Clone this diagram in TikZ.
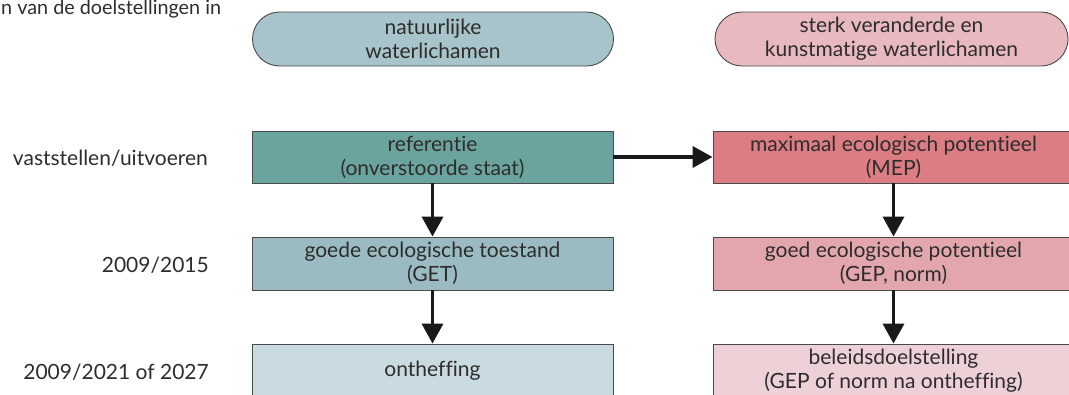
\documentclass[tikz,border=0pt]{standalone}
\usepackage{fontspec}
\setmainfont{Lato}[Ligatures=NoCommon]
\usetikzlibrary{arrows.meta}
\definecolor{txt}{HTML}{2E2C2D}
\definecolor{edge}{HTML}{4A4A4A}
\definecolor{natpill}{HTML}{A6C4C9}
\definecolor{kunpill}{HTML}{E8B9BF}
\definecolor{natA}{HTML}{6BA39E}
\definecolor{kunA}{HTML}{DB7D82}
\definecolor{natB}{HTML}{9ABBC1}
\definecolor{kunB}{HTML}{E3A6AC}
\definecolor{natC}{HTML}{C9DBE0}
\definecolor{kunC}{HTML}{EDD1D6}
\begin{document}
\begin{tikzpicture}[x=1pt,y=-1pt,
  every node/.style={text=txt,font=\fontsize{21}{24}\selectfont,inner sep=0pt},
  box/.style={draw=edge,line width=0.9pt,minimum width=361pt,align=center},
  pill/.style={box,rounded corners=27pt,minimum height=54pt},
  rowlabel/.style={anchor=east},
  arr/.style={line width=3.6pt,draw=black!90,-{Triangle[length=20pt,width=21pt]}}]
  \useasboundingbox (0,0) rectangle (1069,394);
  \clip (0,0) rectangle (1069,394);

  % column headers
  \node[pill,fill=natpill] (nat) at (433,39) {natuurlijke\\waterlichamen};
  \node[pill,fill=kunpill,minimum width=353pt] (kun) at (891.5,39) {sterk veranderde en\\kunstmatige waterlichamen};

  % row labels
  \node[anchor=base west,font=\fontsize{19.8}{24}\selectfont] (doel) at (1,14) {n van de doelstellingen in};
  \node[rowlabel] (lab1) at (208,158) {vaststellen/uitvoeren};
  \node[rowlabel] (lab2) at (209,265) {2009/2015};
  \node[rowlabel] (lab3) at (209,372) {2009/2021 of 2027};

  % natural water bodies
  \node[box,fill=natA,minimum height=52pt] (ref) at (432.5,157) {referentie\\(onverstoorde staat)};
  \node[box,fill=natB,minimum height=53pt] (get) at (432.5,263.5) {goede ecologische toestand\\(GET)};
  \node[box,fill=natC,minimum height=54pt] (onth) at (432.5,371) {ontheffing};

  % heavily modified and artificial water bodies
  \node[box,fill=kunA,minimum height=52pt] (mep) at (893.5,157) {maximaal ecologisch potentieel\\(MEP)};
  \node[box,fill=kunB,minimum height=53pt] (gep) at (893.5,263.5) {goed ecologische potentieel\\(GEP, norm)};
  \node[box,fill=kunC,minimum height=54pt] (beleid) at (893.5,371) {beleidsdoelstelling\\(GEP of norm na ontheffing)};

  % connectors
  \draw[arr] (ref) -- (mep);
  \draw[arr] (ref) -- (get);
  \draw[arr] (get) -- (onth);
  \draw[arr] (mep) -- (gep);
  \draw[arr] (gep) -- (beleid);
\end{tikzpicture}
\end{document}
